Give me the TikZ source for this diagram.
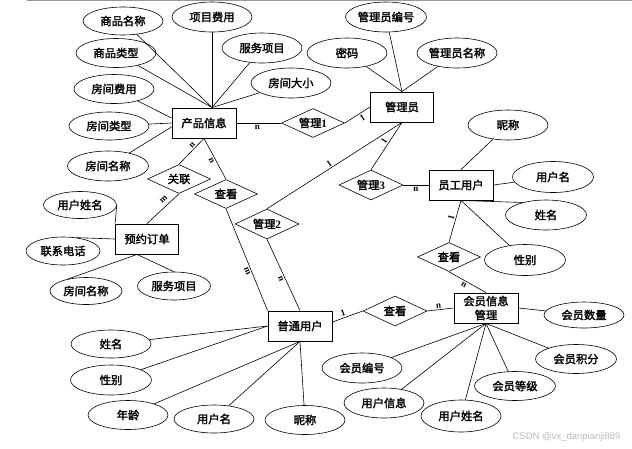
\documentclass[tikz,border=0pt]{standalone}
\usepackage{fontspec}
\setmainfont{Liberation Serif}
\newfontfamily\cjk{Noto Sans CJK SC}[FakeBold=2]
\newfontfamily\wmfont{Liberation Sans}
\usetikzlibrary{shapes.geometric}
\begin{document}
\begin{tikzpicture}[x=1pt,y=-1pt,
  every node/.style={font=\cjk\fontsize{11.3}{13}\selectfont},
  attr/.style={ellipse, draw, line width=0.6pt, minimum width=80pt, minimum height=29pt, inner sep=0pt},
  attrs/.style={attr, minimum width=73pt, minimum height=28pt},
  ent/.style={rectangle, draw, line width=0.9pt, minimum width=64pt, minimum height=30pt, inner sep=0pt},
  rel/.style={diamond, draw, line width=0.6pt, minimum width=63pt, minimum height=29pt, inner sep=0pt, aspect=2.2},
  conn/.style={line width=0.6pt},
  lab/.style={font=\rmfamily\bfseries\fontsize{9}{10}\selectfont, inner sep=1.5pt, sloped}
]
\useasboundingbox (0,0) rectangle (632,448);
\draw[gray!80, line width=1pt] (27,0.5) -- (632,0.5);

% entities
\node[ent] (pi) at (204,123) {产品信息};
\node[ent, minimum width=63pt] (gly) at (402,107) {管理员};
\node[ent] (yg) at (461,185) {员工用户};
\node[ent, minimum width=63pt] (yy) at (147,239) {预约订单};
\node[ent] (pt) at (300,326) {普通用户};
\node[ent, align=center, font=\cjk\fontsize{11.3}{14}\selectfont] (hy) at (486,308) {会员信息\\管理};

% relations
\node[rel] (r1) at (313,123) {管理{\rmfamily\bfseries 1}};
\node[rel] (rgl) at (179,179) {关联};
\node[rel] (rck1) at (226,194) {查看};
\node[rel, minimum width=64pt, minimum height=30pt] (r2) at (267,224) {管理{\rmfamily\bfseries 2}};
\node[rel, minimum width=64pt, minimum height=30pt] (r3) at (371,185) {管理{\rmfamily\bfseries 3}};
\node[rel] (rck2) at (449,257) {查看};
\node[rel, minimum width=64pt, minimum height=30pt] (rck3) at (395,311) {查看};

% attributes of 产品信息
\node[attr, minimum height=28pt] (a1) at (123,21) {商品名称};
\node[attr, minimum height=30pt] (a2) at (212,17) {项目费用};
\node[attr, minimum height=30pt] (a3) at (262,48) {服务项目};
\node[attr] (a4) at (116,53) {商品类型};
\node[attr] (a5) at (114,89) {房间费用};
\node[attr, minimum height=30pt] (a6) at (291,83) {房间大小};
\node[attr, minimum height=28pt] (a7) at (109,126) {房间类型};
\node[attr, minimum width=81pt, minimum height=30pt] (a8) at (108,166) {房间名称};

% attributes of 管理员
\node[attr, minimum width=81pt, minimum height=30pt] (b1) at (386,17) {管理员编号};
\node[attr, minimum height=30pt] (b2) at (347,53) {密码};
\node[attr, minimum height=30pt] (b3) at (457,53) {管理员名称};

% attributes of 员工用户
\node[attr, minimum height=30pt] (c1) at (508,125) {昵称};
\node[attr, minimum width=81pt, minimum height=31pt] (c2) at (553,177) {用户名};
\node[attr, minimum width=81pt, minimum height=30pt] (c3) at (546,215) {姓名};
\node[attr, minimum width=81pt, minimum height=31pt] (c4) at (525,260) {性别};

% attributes of 预约订单
\node[attrs, minimum height=27pt] (d1) at (80,205) {用户姓名};
\node[attrs, minimum width=74pt] (d2) at (63,251) {联系电话};
\node[attrs, minimum width=72pt, minimum height=27pt] (d3) at (86,291) {房间名称};
\node[attrs] (d4) at (174,286) {服务项目};

% attributes of 普通用户
\node[attr, minimum height=28pt] (e1) at (111,344) {姓名};
\node[attr, minimum width=81pt, minimum height=30pt] (e2) at (111,380) {性别};
\node[attr] (e3) at (128,415) {年龄};
\node[attr, minimum height=28pt] (e4) at (214,419) {用户名};
\node[attr] (e5) at (305,420) {昵称};

% attributes of 会员信息管理
\node[attr, minimum height=26pt] (f1) at (584,315) {会员数量};
\node[attr, minimum width=81pt] (f2) at (576,359) {会员积分};
\node[attr, minimum width=81pt] (f3) at (515,386) {会员等级};
\node[attr, minimum height=30pt] (f4) at (362,368) {会员编号};
\node[attr, minimum height=30pt] (f5) at (384,403) {用户信息};
\node[attr, minimum height=32pt] (f6) at (461,416) {用户姓名};

% helper coordinates
\coordinate (piTop) at ([xshift=8pt]pi.north);
\coordinate (piL1) at ([yshift=5pt]pi.west);
\coordinate (piL3) at ([yshift=-4pt]pi.west);
\coordinate (yyB) at ([xshift=-10pt]yy.south);
\coordinate (ptR) at ([yshift=4pt]pt.east);

% connectors: 产品信息
\foreach \a in {a1,a2,a3,a4,a6} \draw[conn] (\a) -- (piTop);
\draw[conn] (a5) -- (piL1);
\draw[conn] (a7) -- (pi.west);
\draw[conn] (a8) -- (piL3);
\draw[conn] (pi.east) -- node[lab, pos=0.47, below]{n} (r1.west);
\draw[conn] (r1.east) -- node[lab, pos=0.6, below]{1} (gly.west);
\draw[conn] (pi.south) -- node[lab, pos=0.35, above]{n} (rgl.north);
\draw[conn] (pi.south) -- node[lab, pos=0.5, below]{n} (rck1.north);

% 管理员
\foreach \b in {b1,b2,b3} \draw[conn] (\b) -- (gly.north);
\draw[conn] (gly.south) -- node[lab, pos=0.52, above]{1} (r2.north);
\draw[conn] (gly.south) -- node[lab, pos=0.45, above]{1} (r3.north);

% 员工用户
\draw[conn] (r3.east) -- node[lab, pos=0.5, below]{n} (yg.west);
\draw[conn] (yg.north) -- (c1);
\draw[conn] (yg.east) -- (c2);
\draw[conn] (yg.south) -- (c3.152);
\draw[conn] (yg.south) -- (c4);
\draw[conn] (yg.south) -- node[lab, pos=0.45, above]{1} (rck2.north);
\draw[conn] (rck2.south) -- node[lab, pos=0.45, below]{n} (hy.north);

% 预约订单
\draw[conn] (rgl.south) -- node[lab, pos=0.35, above, yshift=2pt]{m} (yy.north);
\draw[conn] (yy.north west) -- (d1.east);
\draw[conn] (yy.west) -- (d2.45);
\draw[conn] (yyB) -- (d3.147);
\draw[conn] (yyB) -- (d4.north);

% 普通用户
\draw[conn] (rck1.south) -- node[lab, pos=0.6, below]{m} (pt.north west);
\draw[conn] (r2.south) -- node[lab, pos=0.53, below]{n} (pt.north);
\draw[conn] (pt.west) -- (e1);
\draw[conn] (pt.west) -- (e2);
\draw[conn] (pt.south) -- (e3);
\draw[conn] (pt.south) -- (e4);
\draw[conn] (pt.south) -- (e5);
\draw[conn] (ptR) -- node[lab, pos=0.4, above]{1} (rck3.west);
\draw[conn] (rck3.east) -- node[lab, pos=0.45, above]{n} (hy.west);

% 会员信息管理
\draw[conn] (hy.east) -- (f1);
\foreach \f in {f2,f3,f4,f5,f6} \draw[conn] (hy.south) -- (\f);

% watermark
\node[font=\wmfont\fontsize{9.5}{11}\selectfont, text=gray!55, anchor=east] (wm) at (624,437) {CSDN @vx\_danpianji889};
\end{tikzpicture}
\end{document}
